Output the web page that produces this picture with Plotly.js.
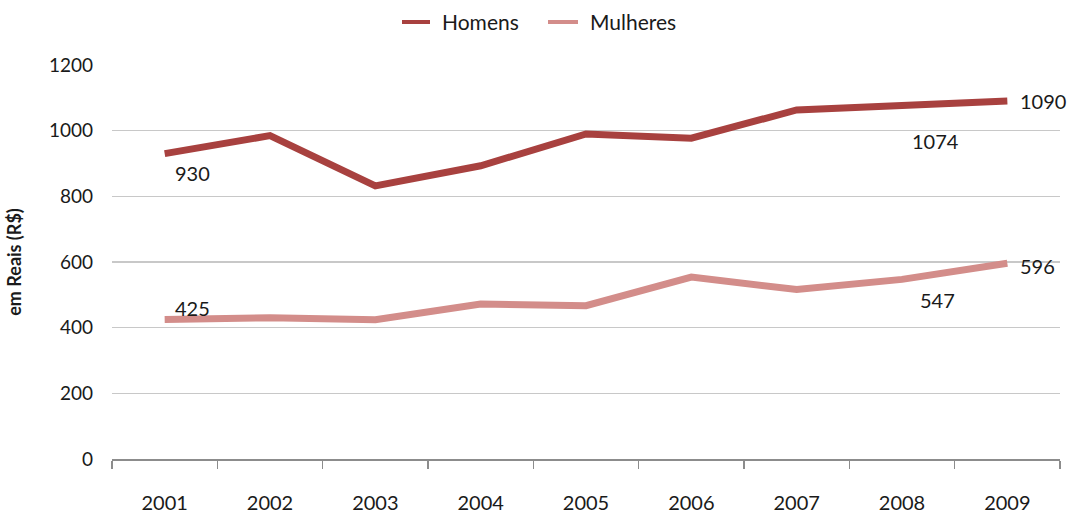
<!DOCTYPE html>
<html>
<head>
<meta charset="utf-8">
<script src="https://cdn.plot.ly/plotly-3.0.1.min.js"></script>
<style>html,body{margin:0;padding:0;background:#fff;}#chart{width:1070px;height:513px;}</style>
</head>
<body>
<div id="chart"></div>
<script>
const years = ['2001','2002','2003','2004','2005','2006','2007','2008','2009'];
const homens = [930, 985, 832, 893, 990, 977, 1063, 1074, 1090];
const mulheres = [425, 430, 424, 472, 467, 554, 516, 547, 596];
const seriesNames = ['Homens', 'Mulheres'];
const seriesColors = ['#A8413F', '#D38D8A'];
// which points carry a value label
const homensLabelIdx = [0, 7, 8];
const mulheresLabelIdx = [0, 7, 8];

const fontFam = 'Lato, "Open Sans", sans-serif';
const txtColor = '#1a1a1a';

const traces = [homens, mulheres].map((vals, s) => ({
  x: years, y: vals, name: seriesNames[s], type: 'scatter', mode: 'lines',
  line: {color: seriesColors[s], width: 7}, showlegend: false
}));

// label offsets (pixels) per labelled point: [xshift, yshift]
const homensOff = {0: [8, -19], 7: [8, -35], 8: [11, 0]};
const mulheresOff = {0: [8, 11], 7: [16, -21], 8: [11, -3]};

const annotations = [];
// category axis: annotation x given as category index
homensLabelIdx.forEach(i => annotations.push({
  x: i, y: homens[i], xref: 'x', yref: 'y', text: String(homens[i]), showarrow: false,
  xanchor: 'left', yanchor: 'middle', xshift: homensOff[i][0], yshift: homensOff[i][1],
  font: {family: fontFam, size: 20, color: txtColor}
}));
mulheresLabelIdx.forEach(i => annotations.push({
  x: i, y: mulheres[i], xref: 'x', yref: 'y', text: String(mulheres[i]), showarrow: false,
  xanchor: 'left', yanchor: 'middle', xshift: mulheresOff[i][0], yshift: mulheresOff[i][1],
  font: {family: fontFam, size: 20, color: txtColor}
}));

// custom legend (paper coords relative to plot area: x 112..1060, y 459..65)
const px = v => (v - 112) / 948;
const py = v => (459 - v) / 394;
const legendItems = [{x0: 402, x1: 430, tx: 440}, {x0: 548, x1: 578, tx: 588}];
const shapes = [];
legendItems.forEach((it, s) => {
  shapes.push({type: 'line', xref: 'paper', yref: 'paper', x0: px(it.x0), x1: px(it.x1), y0: py(22), y1: py(22),
               line: {color: seriesColors[s], width: 4}});
  annotations.push({xref: 'paper', yref: 'paper', x: px(it.tx), y: py(22), text: seriesNames[s], showarrow: false,
                    xanchor: 'left', yanchor: 'middle', font: {family: fontFam, size: 21, color: txtColor}});
});

const layout = {
  width: 1070, height: 513,
  margin: {l: 112, r: 10, t: 65, b: 54},
  paper_bgcolor: '#fff', plot_bgcolor: '#fff',
  font: {family: fontFam, size: 19, color: txtColor},
  showlegend: false,
  annotations: annotations,
  shapes: shapes,
  xaxis: {type: 'category', range: [-0.5, 8.5], tickson: 'boundaries', ticks: 'outside', ticklen: 8,
          tickcolor: '#8c8c8c', tickwidth: 1.5, showline: true, linecolor: '#8c8c8c', linewidth: 2,
          showgrid: false, zeroline: false, ticklabelstandoff: 25,
          tickfont: {family: fontFam, size: 20, color: txtColor}},
  yaxis: {range: [0, 1200], dtick: 200, tick0: 0, showgrid: true, gridcolor: '#c8c8c8', gridwidth: 1.5,
          zeroline: false, showline: false, ticks: '', ticklabelstandoff: 18,
          tickfont: {family: fontFam, size: 19, color: txtColor},
          title: {text: '<b>em Reais (R$)</b>', font: {family: fontFam, size: 18, color: txtColor}, standoff: 22}}
};

Plotly.newPlot('chart', traces, layout, {displayModeBar: false, staticPlot: true});
</script>
</body>
</html>
